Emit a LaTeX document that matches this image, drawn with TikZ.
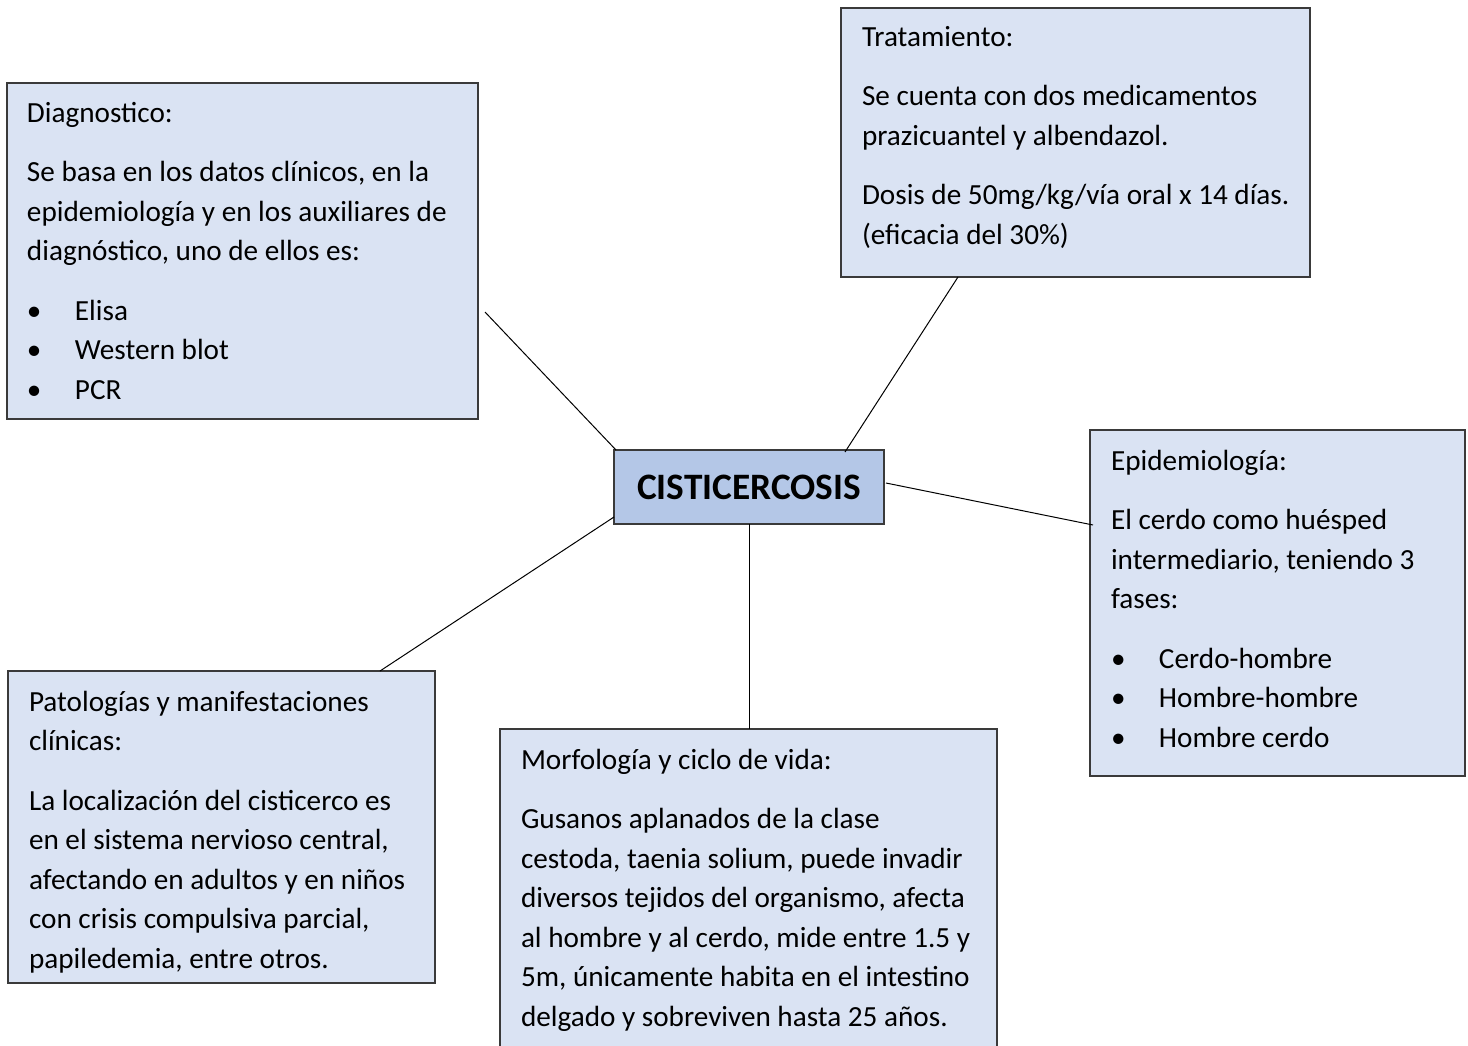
\documentclass[tikz,border=0pt]{standalone}
\usepackage{fontspec}
\setmainfont{Carlito}
\usetikzlibrary{calc}
\definecolor{boxfill}{HTML}{DAE3F3}
\definecolor{mainfill}{HTML}{B4C7E7}
\definecolor{boxline}{HTML}{3A3A3A}
\newcommand{\bodyfont}{\fontsize{29.2}{39.5}\selectfont}
\newcommand{\bul}{\makebox[48pt][l]{•}}
\newcommand{\fl}{\rule{0pt}{24pt}}
\begin{document}
\begin{tikzpicture}[x=1pt,y=-1pt,
  box/.style={draw=boxline,line width=1.4pt,fill=boxfill,inner sep=0pt,outer sep=0pt,anchor=north west},
  mainbox/.style={box,fill=mainfill},
  txt/.style={inner sep=0pt,outer sep=0pt,anchor=north west,align=left,font=\bodyfont},
  conn/.style={draw=black,line width=1pt}]
\useasboundingbox (0,0) rectangle (1468,1045);
\node[box,minimum width=471pt,minimum height=336pt] (diag) at (7,83) {};
\node[box,minimum width=469pt,minimum height=269pt] (trat) at (841,8) {};
\node[box,minimum width=375pt,minimum height=346pt] (epi) at (1090,430) {};
\node[box,minimum width=427pt,minimum height=312pt] (pat) at (8,671) {};
\node[box,minimum width=497pt,minimum height=330pt] (morf) at (500,729) {};
\node[mainbox,minimum width=270pt,minimum height=74pt] (main) at (614,450) {};
\node[font=\fontsize{37.3}{40}\selectfont\bfseries,inner sep=0pt] (mainT) at (main.center) {CISTICERCOSIS};

\node[txt] (diagT) at (27,98) {\fl Diagnostico:\\[20pt]
Se basa en los datos clínicos, en la\\
epidemiología y en los auxiliares de\\
diagnóstico, uno de ellos es:\\[20pt]
\bul Elisa\\
\bul Western blot\\
\bul PCR};

\node[txt] (tratT) at (862,22) {\fl Tratamiento:\\[20pt]
Se cuenta con dos medicamentos\\
prazicuantel y albendazol.\\[20pt]
Dosis de 50mg/kg/vía oral x 14 días.\\
(eficacia del 30\%)};

\node[txt] (epiT) at (1111,446) {\fl Epidemiología:\\[20pt]
El cerdo como huésped\\
intermediario, teniendo 3\\
fases:\\[20pt]
\bul Cerdo-hombre\\
\bul Hombre-hombre\\
\bul Hombre cerdo};

\node[txt] (patT) at (29,687) {\fl Patologías y manifestaciones\\
clínicas:\\[20pt]
La localización del cisticerco es\\
en el sistema nervioso central,\\
afectando en adultos y en niños\\
con crisis compulsiva parcial,\\
papiledemia, entre otros.};

\node[txt] (morfT) at (521,745) {\fl Morfología y ciclo de vida:\\[20pt]
Gusanos aplanados de la clase\\
cestoda, taenia solium, puede invadir\\
diversos tejidos del organismo, afecta\\
al hombre y al cerdo, mide entre 1.5 y\\
5m, únicamente habita en el intestino\\
delgado y sobreviven hasta 25 años.};

\coordinate (diagEnd) at ($(diag.north east)+(7,229)$);
\draw[conn] (diagEnd) -- ($(main.north west)+(2,0)$);
\draw[conn] ($(trat.south west)+(117,0)$) -- ($(main.north west)+(231,2)$);
\draw[conn] ($(main.north east)+(2,33)$) -- ($(epi.north west)+(3,95)$);
\draw[conn] ($(main.south west)+(0,-7)$) -- ($(pat.north west)+(372,0)$);
\draw[conn] ($(main.south west)+(135,0)$) -- ($(morf.north west)+(249,0)$);
\end{tikzpicture}
\end{document}
